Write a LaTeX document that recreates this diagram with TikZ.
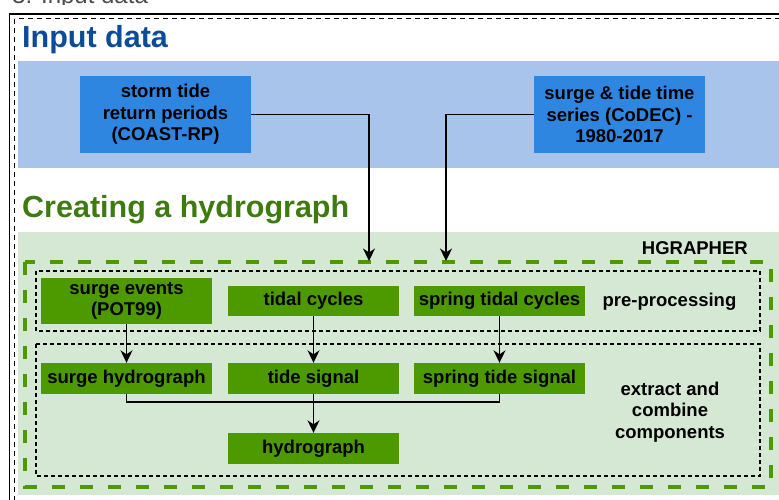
\documentclass[tikz,border=0pt]{standalone}
\usepackage{fontspec}
\setmainfont{Liberation Sans}
\usetikzlibrary{arrows.meta}

\definecolor{bandblue}{HTML}{A9C4EB}
\definecolor{boxblue}{HTML}{2E86E0}
\definecolor{titleblue}{HTML}{0A4C99}
\definecolor{bggreen}{HTML}{D5E8D4}
\definecolor{boxgreen}{HTML}{4D9900}
\definecolor{titlegreen}{HTML}{3D7A10}

\tikzset{
  boxfont/.style={font=\fontsize{18.5}{21.7}\selectfont\bfseries},
  bluebox/.style={boxfont, fill=boxblue, draw=none, align=center,
    minimum width=171pt, minimum height=77pt, inner sep=0pt},
  greenbox/.style={boxfont, fill=boxgreen, draw=none, align=center,
    minimum width=171pt, minimum height=31pt, inner sep=0pt},
  titletext/.style={font=\fontsize{30.5}{36}\selectfont\bfseries, anchor=base west, inner sep=0pt},
  labeltext/.style={boxfont, align=center, inner sep=0pt},
  stagebox/.style={draw=black, line width=1.3pt, dash pattern=on 4pt off 3pt},
  toolbox/.style={draw=boxgreen, line width=4.5pt, dash pattern=on 13pt off 15pt},
  arr/.style={draw=black, line width=1.5pt,
    -{Stealth[length=12.5pt, width=12pt, inset=4pt]}},
  link/.style={draw=black, line width=1.5pt}
}

\begin{document}
\begin{tikzpicture}[x=1pt, y=-1pt]
\useasboundingbox (0,0) rectangle (779,499);
\clip (0,0) rectangle (779,499);

% heading of the slide above, only its foot shows
\begin{scope}
  \clip (0,0) rectangle (779,4.5);
  \node[font=\fontsize{24}{28}\selectfont, text=black!70, anchor=base west, inner sep=0pt]
    (prevhead) at (12,3) {3. Input data};
\end{scope}

% outer frames
\draw[black, line width=1.8pt] (9.5,14) rectangle (800,520);
\draw[black, line width=1.3pt, dash pattern=on 5pt off 4pt] (14.5,18.5) rectangle (800,520);

% input data band
\fill[bandblue] (17.5,61) rectangle (800,168);
\node[titletext, text=titleblue] (inputtitle) at (22,47) {Input data};

\node[bluebox] (st) at (165.5,114.5) {storm tide\\return periods\\(COAST-RP)};
\node[bluebox] (sd) at (619.5,114.5) {surge \& tide time\\series (CoDEC) -\\1980-2017};

% hydrograph section
\node[titletext, text=titlegreen] (hydtitle) at (22,217) {Creating a hydrograph};
\fill[bggreen] (18,232) rectangle (800,495);
\node[boxfont, anchor=base east, inner sep=0pt] (hgrapher) at (748,254) {HGRAPHER};

\draw[toolbox] (25,262) rectangle (771,487);
\draw[stagebox] (36,271) rectangle (760,331);
\draw[stagebox] (36,344) rectangle (760,476);

% pre-processing
\node[greenbox, minimum height=46pt] (se) at (126.5,301) {surge events\\(POT99)};
\node[greenbox, minimum height=30pt] (tc) at (313.5,301) {tidal cycles};
\node[greenbox, minimum height=30pt] (stc) at (499.5,301) {spring tidal cycles};
\node[labeltext, anchor=base] (prelabel) at (669.5,306) {pre-processing};

% extract and combine
\node[greenbox] (sh) at (126.5,378.5) {surge hydrograph};
\node[greenbox] (ts) at (313.5,378.5) {tide signal};
\node[greenbox] (sts) at (499.5,378.5) {spring tide signal};
\node[greenbox] (hg) at (313.5,448.5) {hydrograph};
\node[labeltext] (comblabel) at (670,412) {extract and\\combine\\components};

% connectors
\coordinate (in1) at (369,261);
\coordinate (in2) at (446,261);
\draw[arr] (st.east) -| (in1);
\draw[arr] (sd.west) -| (in2);

\draw[arr] (se.south) -- (sh.north);
\draw[arr] (tc.south) -- (ts.north);
\draw[arr] (stc.south) -- (sts.north);

\coordinate (join) at (313.5,402);
\draw[link] (sh.south) |- (join) -| (sts.south);
\draw[arr] (ts.south) -- (hg.north);
\end{tikzpicture}
\end{document}
